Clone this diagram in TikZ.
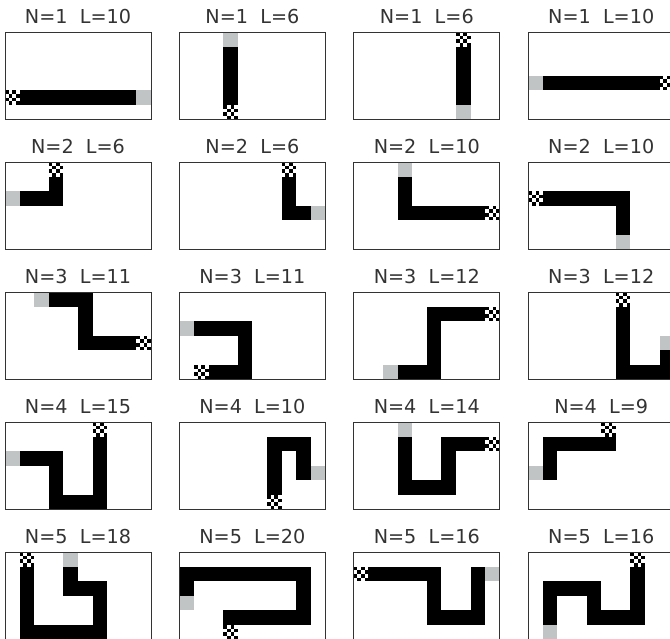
\documentclass[tikz,border=0pt]{standalone}
\usepackage{fontspec}
\usepackage{tikz}
\usetikzlibrary{positioning}
\newfontfamily\titlefont{DejaVu Sans}
\definecolor{goalgray}{HTML}{C0C4C4}

\tikzset{
    paneltitle/.style={anchor=base, inner sep=0pt, text=black!80, font=\titlefont\fontsize{19.2}{23}\selectfont},
    frame/.style={draw=black!80, line width=0.9pt},
    snake/.style={draw=black, line width=14.6pt, line join=miter, line cap=butt},
    goal/.style={fill=goalgray}
}

% col, row, title, start cell, corners, end cell
\newcommand{\snakepanel}[6]{%
    \begin{scope}[shift={(5+174.4*#1, 32+130*#2)}]
        \node[paneltitle] (title-#1-#2) at (73,-8.7) {#3};
        \begin{scope}[x=14.6pt, y=-14.6pt]
            % body
            \draw[snake, shift={(0.5,0.5)}] (#4) #5 -- (#6);
            % start cell
            \begin{scope}[shift={(#4)}]
                \fill[white] (0,0) rectangle (1,1);
                \foreach \a/\b in {0/0,2/0,1/1,3/1,0/2,2/2,1/3,3/3}
                    \fill (\a/4,\b/4) rectangle ++(0.25,0.25);
            \end{scope}
            % end cell
            \fill[goal] (#6) rectangle ++(1,1);
            \draw[frame] (0,0) rectangle (10,6);
        \end{scope}
    \end{scope}}

\begin{document}
\begin{tikzpicture}[x=1pt, y=-1pt]
    \useasboundingbox (0,0) rectangle (670,639);
    \clip (0,0) rectangle (670,639);

    % N=1
    \snakepanel{0}{0}{N=1\ \ L=10}{0,4}{}{9,4}
    \snakepanel{1}{0}{N=1\ \ L=6}{3,5}{}{3,0}
    \snakepanel{2}{0}{N=1\ \ L=6}{7,0}{}{7,5}
    \snakepanel{3}{0}{N=1\ \ L=10}{9,3}{}{0,3}

    % N=2
    \snakepanel{0}{1}{N=2\ \ L=6}{3,0}{-- (3,2)}{0,2}
    \snakepanel{1}{1}{N=2\ \ L=6}{7,0}{-- (7,3)}{9,3}
    \snakepanel{2}{1}{N=2\ \ L=10}{9,3}{-- (3,3)}{3,0}
    \snakepanel{3}{1}{N=2\ \ L=10}{0,2}{-- (6,2)}{6,5}

    % N=3
    \snakepanel{0}{2}{N=3\ \ L=11}{9,3}{-- (5,3) -- (5,0)}{2,0}
    \snakepanel{1}{2}{N=3\ \ L=11}{1,5}{-- (4,5) -- (4,2)}{0,2}
    \snakepanel{2}{2}{N=3\ \ L=12}{9,1}{-- (5,1) -- (5,5)}{2,5}
    \snakepanel{3}{2}{N=3\ \ L=12}{6,0}{-- (6,5) -- (9,5)}{9,3}

    % N=4
    \snakepanel{0}{3}{N=4\ \ L=15}{6,0}{-- (6,5) -- (3,5) -- (3,2)}{0,2}
    \snakepanel{1}{3}{N=4\ \ L=10}{6,5}{-- (6,1) -- (8,1) -- (8,3)}{9,3}
    \snakepanel{2}{3}{N=4\ \ L=14}{9,1}{-- (6,1) -- (6,4) -- (3,4)}{3,0}
    \snakepanel{3}{3}{N=4\ \ L=9}{5,0}{-- (5,1) -- (1,1) -- (1,3)}{0,3}

    % N=5
    \snakepanel{0}{4}{N=5\ \ L=18}{1,0}{-- (1,5) -- (6,5) -- (6,2) -- (4,2)}{4,0}
    \snakepanel{1}{4}{N=5\ \ L=20}{3,5}{-- (3,4) -- (8,4) -- (8,1) -- (0,1)}{0,3}
    \snakepanel{2}{4}{N=5\ \ L=16}{0,1}{-- (5,1) -- (5,4) -- (8,4) -- (8,1)}{9,1}
    \snakepanel{3}{4}{N=5\ \ L=16}{7,0}{-- (7,4) -- (4,4) -- (4,2) -- (1,2)}{1,5}
\end{tikzpicture}
\end{document}
